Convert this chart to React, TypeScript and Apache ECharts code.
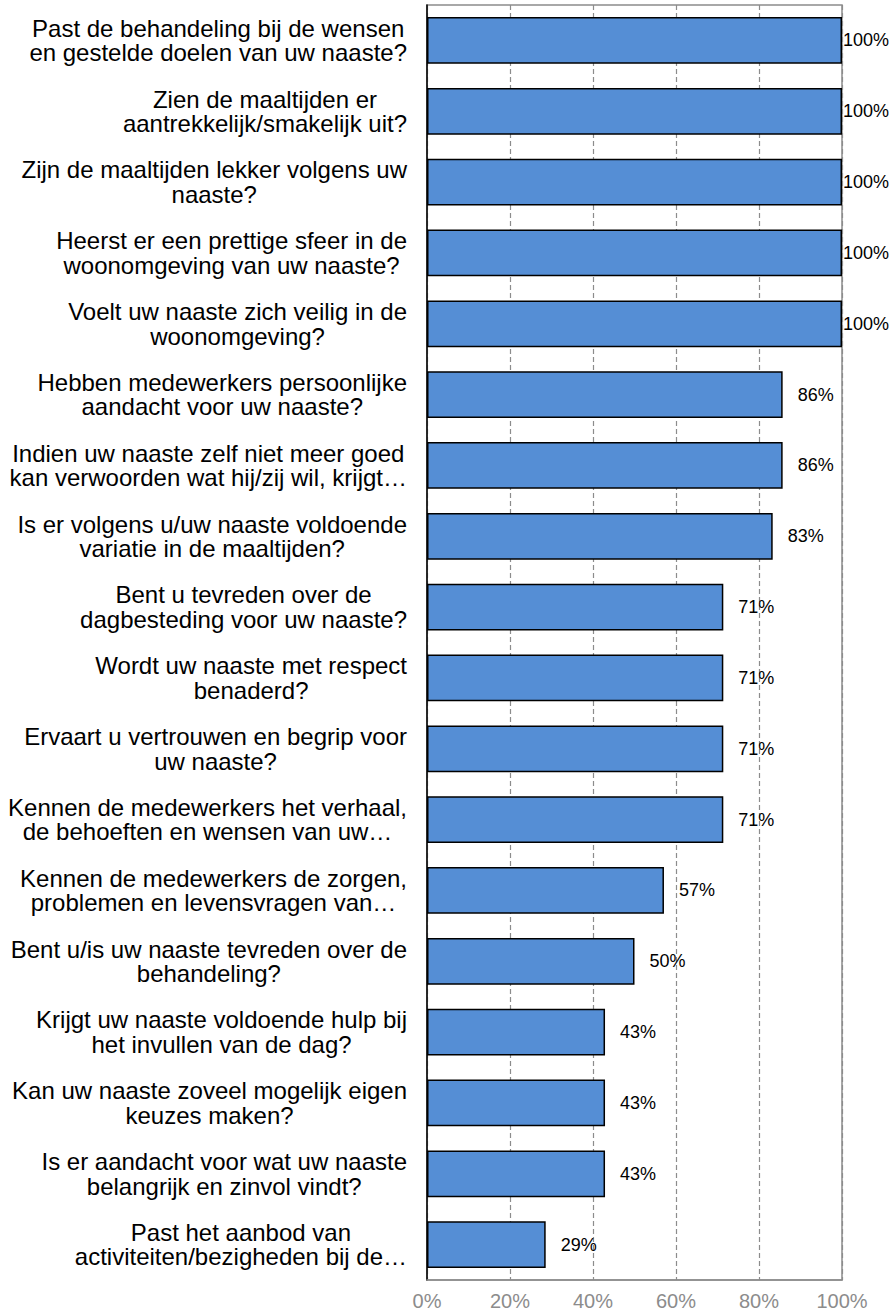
import React, { useEffect, useRef } from "react";
import * as echarts from "echarts";

const categories: string[] = [
  "Past de behandeling bij de wensen\nen gestelde doelen van uw naaste?",
  "Zien de maaltijden er\naantrekkelijk/smakelijk uit?",
  "Zijn de maaltijden lekker volgens uw\nnaaste?",
  "Heerst er een prettige sfeer in de\nwoonomgeving van uw naaste?",
  "Voelt uw naaste zich veilig in de\nwoonomgeving?",
  "Hebben medewerkers persoonlijke\naandacht voor uw naaste?",
  "Indien uw naaste zelf niet meer goed\nkan verwoorden wat hij/zij wil, krijgt…",
  "Is er volgens u/uw naaste voldoende\nvariatie in de maaltijden?",
  "Bent u tevreden over de\ndagbesteding voor uw naaste?",
  "Wordt uw naaste met respect\nbenaderd?",
  "Ervaart u vertrouwen en begrip voor\nuw naaste?",
  "Kennen de medewerkers het verhaal,\nde behoeften en wensen van uw…",
  "Kennen de medewerkers de zorgen,\nproblemen en levensvragen van…",
  "Bent u/is uw naaste tevreden over de\nbehandeling?",
  "Krijgt uw naaste voldoende hulp bij\nhet invullen van de dag?",
  "Kan uw naaste zoveel mogelijk eigen\nkeuzes maken?",
  "Is er aandacht voor wat uw naaste\nbelangrijk en zinvol vindt?",
  "Past het aanbod van\nactiviteiten/bezigheden bij de…",
];

const values: number[] = [
  100, 100, 100, 100, 100, 85.7, 85.7, 83.3, 71.4, 71.4, 71.4, 71.4, 57.1, 50, 42.9, 42.9, 42.9, 28.6,
];

const xTicks = { min: 0, max: 100, interval: 20 };

const FONT = "'Liberation Sans', Arial, sans-serif";

export default function App() {
  const ref = useRef<HTMLDivElement>(null);
  useEffect(() => {
    document.body.style.margin = "0";
    if (!ref.current) return;
    const chart = echarts.init(ref.current, null, { renderer: "svg" });
    chart.setOption({
      animation: false,
      grid: {
        left: 427,
        right: 48,
        top: 5,
        bottom: 36,
        show: true,
        borderColor: "#8c8c8c",
        borderWidth: 1.5,
      },
      xAxis: {
        type: "value",
        min: xTicks.min,
        max: xTicks.max,
        interval: xTicks.interval,
        axisLine: { show: true, lineStyle: { color: "#8c8c8c", width: 1.5 } },
        axisTick: { show: false },
        axisLabel: {
          formatter: "{value}%",
          color: "#8c8c8c",
          fontSize: 20,
          fontFamily: FONT,
          margin: 11,
        },
        splitLine: {
          show: true,
          lineStyle: { color: "#8c8c8c", type: [5, 3], width: 1.2 },
        },
      },
      yAxis: {
        type: "category",
        data: categories,
        inverse: true,
        axisLine: { show: true, lineStyle: { color: "#000", width: 1.5 } },
        axisTick: { show: false },
        splitLine: { show: false },
        axisLabel: {
          margin: 20,
          interval: 0,
          formatter: (v: string) =>
            v
              .split("\n")
              .map((l) => `{c|${l}}`)
              .join("\n"),
          rich: {
            c: {
              align: "center",
              fontSize: 24,
              lineHeight: 24.5,
              color: "#000",
              fontFamily: FONT,
            },
          },
        },
      },
      series: [
        {
          type: "bar",
          barCategoryGap: "34%",
          data: values.map((v) => ({
            value: v,
            label: { distance: v >= 100 ? 1 : 15 },
          })),
          itemStyle: {
            color: "#558ED5",
            borderColor: "#000",
            borderWidth: 1.5,
          },
          label: {
            show: true,
            position: "right",
            formatter: (p: any) => `${Math.round(p.value)}%`,
            color: "#000",
            fontSize: 18,
            fontFamily: FONT,
          },
        },
      ],
    });
    return () => chart.dispose();
  }, []);
  return <div ref={ref} style={{ width: 890, height: 1316 }} />;
}
